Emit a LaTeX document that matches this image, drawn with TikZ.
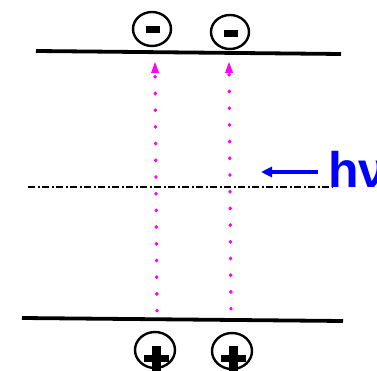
\documentclass[tikz,border=0pt]{standalone}
\usepackage{fontspec}
\newfontfamily\hvfont{Liberation Sans}
\usetikzlibrary{arrows.meta,shapes.geometric}
\definecolor{mag}{RGB}{255,0,255}
\definecolor{hvblue}{RGB}{0,0,255}
\begin{document}
\begin{tikzpicture}[x=1pt,y=-1pt,
  plate/.style={line width=3.8pt},
  chg/.style={ellipse,draw,line width=2.4pt,minimum width=38pt,minimum height=34pt,inner sep=0pt},
  field/.style={mag,line width=3.3pt,line cap=round,dash pattern=on 0.8pt off 15.9pt,-{Triangle[length=12pt,width=7pt]}},
  axis/.style={line width=1.2pt,dash pattern=on 7pt off 2.5pt on 2pt off 2.5pt}]
\useasboundingbox (0,0) rectangle (377,371);
\begin{scope}
\clip (0,0) rectangle (377,371);
% plates
\coordinate (tl) at (36,51);
\coordinate (tr) at (341,54);
\coordinate (bl) at (22,318);
\coordinate (br) at (343,321);
\draw[plate] (tl) -- (tr);
\draw[plate] (bl) -- (br);
% negative charges
\node[chg] (n1) at (152,29) {};
\node[chg] (n2) at (230,32) {};
\fill (n1.center) ++(-6,-3) rectangle ++(14,7);
\fill (n2.center) ++(-6,-2) rectangle ++(14,7);
% positive charges
\node[chg,minimum width=40pt,minimum height=36pt] (p1) at (155,350) {};
\node[chg,minimum width=40pt,minimum height=36pt] (p2) at (232,351) {};
\fill (p1.center) ++(-11,5) rectangle ++(25,7);
\fill (p1.center) ++(-3,-4) rectangle ++(9,30);
\fill (p2.center) ++(-11,4) rectangle ++(25,7);
\fill (p2.center) ++(-3,-5) rectangle ++(9,30);
% field lines
\coordinate (f1b) at (157,311);
\coordinate (f1t) at (155,61);
\coordinate (f2b) at (231,309);
\coordinate (f2t) at (229,61);
\draw[field] (f1b) -- (f1t);
\draw[field] (f2b) -- (f2t);
% axis
\coordinate (a1) at (28,187);
\coordinate (a2) at (332,187);
\draw[axis] (a1) -- (a2);
% photon
\coordinate (ps) at (318,172);
\coordinate (pe) at (261,172);
\draw[hvblue,line width=3.5pt,-{Triangle[length=11pt,width=10pt]}] (ps) -- (pe);
\node[anchor=base west,inner sep=0pt,text=hvblue,font=\hvfont\bfseries\fontsize{50}{50}\selectfont] (hv) at (328,188) {hν};
\end{scope}
\end{tikzpicture}
\end{document}
